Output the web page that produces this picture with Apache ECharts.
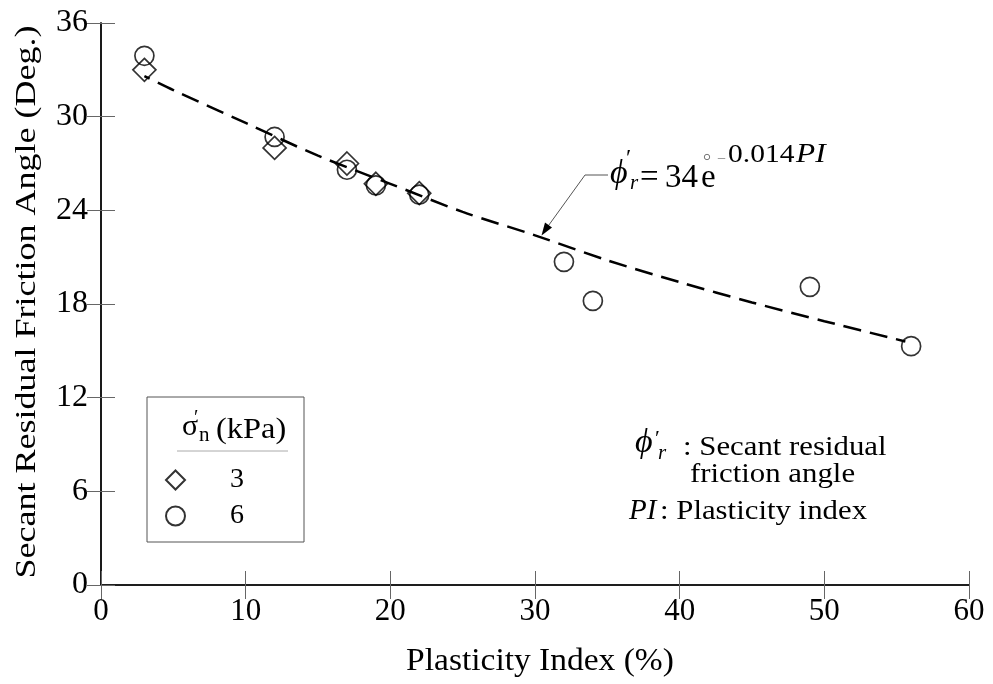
<!DOCTYPE html>
<html><head><meta charset="utf-8">
<script src="https://cdn.jsdelivr.net/npm/echarts@6/dist/echarts.min.js"></script>
<style>html,body{margin:0;padding:0;background:#fff}#c{width:993px;height:684px}</style>
</head><body><div id="c"></div>
<script>
// ---- data ----
const xTicks = [0, 10, 20, 30, 40, 50, 60];
const yTicks = [0, 6, 12, 18, 24, 30, 36];
const pi3 = [3, 12, 17, 19, 22];
const phi3 = [33.0, 28.0, 27.0, 25.7, 25.1];
const pi6 = [3, 12, 17, 19, 22, 32, 34, 49, 56];
const phi6 = [33.9, 28.7, 26.6, 25.6, 25.0, 20.7, 18.2, 19.1, 15.3];
const fitPI = [3, 5, 10, 15, 20, 25, 30, 35, 40, 45, 50, 55.6];
const fitPhi = [32.6, 31.7, 29.6, 27.5, 25.7, 23.9, 22.4, 20.8, 19.4, 18.1, 16.9, 15.6];
const seriesNames = ['3', '6'];
const xTitle = 'Plasticity Index (%)';
const yTitle = 'Secant Residual Friction Angle (Deg.)';

const FONT = "'Liberation Serif','Times New Roman',serif";
const chart = echarts.init(document.getElementById('c'), null, {renderer: 'canvas'});

function T(text, x, baseline, size, opt) {
  opt = opt || {};
  return {
    type: 'text', x: x, y: baseline - 0.34 * size, z: 100,
    scaleX: opt.sx || 1, scaleY: opt.sy || 1, rotation: opt.rot || 0,
    style: {
      text: text, x: 0, y: 0,
      font: (opt.italic ? 'italic ' : '') + size + 'px ' + FONT,
      fill: opt.fill || '#000', align: opt.align || 'left', verticalAlign: 'middle'
    }
  };
}

const axisCommon = {
  type: 'value', min: 0,
  axisLine: {show: true, lineStyle: {color: '#111', width: 1.6}},
  axisTick: {show: true, inside: true, length: 14, lineStyle: {color: '#666', width: 1}},
  splitLine: {show: false}
};

const graphics = [
  // legend box
  {type: 'rect', shape: {x: 147, y: 397, width: 157, height: 145}, style: {fill: 'none', stroke: '#555', lineWidth: 1}, z: 50},
  {type: 'line', shape: {x1: 177, y1: 451, x2: 288, y2: 451}, style: {stroke: '#aaa', lineWidth: 1}, z: 50},
  T('σ', 182, 437, 30),
  T('′', 194, 426, 20),
  T('n', 199, 443, 21),
  T('(kPa)', 216, 440, 30, {sx: 1.08}),
  // equation
  T('ϕ', 610, 186, 34, {italic: true}),
  T('′', 626, 167, 24),
  T('r', 630, 191, 21, {italic: true}),
  T('=', 640, 190, 33),
  T('34', 665, 190, 33),
  T('e', 701, 190, 33),
  {type: 'circle', shape: {cx: 707, cy: 157, r: 2.7}, style: {fill: 'none', stroke: '#777', lineWidth: 1}, z: 100},
  T('−', 717, 165, 16, {fill: '#888'}),
  T('0.014', 728, 164, 25, {sx: 1.18}),
  T('PI', 796, 164, 28, {italic: true, sx: 1.12}),
  // arrow
  {type: 'polyline', shape: {points: [[608, 175], [585, 175], [546, 229]]}, style: {stroke: '#555', lineWidth: 1, fill: 'none'}, z: 100},
  {type: 'polygon', shape: {points: [[541.5, 235.5], [552, 227.5], [545, 222.5]]}, style: {fill: '#000'}, z: 100},
  // right note
  T('ϕ', 635, 455, 34, {italic: true}),
  T('′', 655, 447, 22),
  T('r', 658, 461, 21, {italic: true}),
  T(': Secant residual', 683, 457, 28, {sx: 1.1}),
  T('friction angle', 690, 484, 28, {sx: 1.1}),
  T('PI', 629, 521, 29, {italic: true, sx: 1.0}),
  T(': Plasticity index', 660, 521, 28, {sx: 1.1}),
  // axis titles
  T(xTitle, 540, 672, 31, {align: 'center', sx: 1.08}),
  {type: 'text', x: 27, y: 302, rotation: Math.PI / 2, scaleX: 1.2, z: 100,
   style: {text: yTitle, x: 0, y: 0, font: '30px ' + FONT, fill: '#000', align: 'center', verticalAlign: 'middle'}}
];

const option = {
  backgroundColor: '#fff',
  animation: false,
  grid: {left: 101, top: 23, width: 868, height: 562, containLabel: false},
  xAxis: [
    Object.assign({}, axisCommon, {position: 'bottom', max: xTicks[xTicks.length - 1], interval: xTicks[1] - xTicks[0],
      axisLabel: {show: true, margin: 11, color: '#000', fontFamily: FONT, fontSize: 31}}),
    Object.assign({}, axisCommon, {position: 'top', max: xTicks[xTicks.length - 1], interval: xTicks[1] - xTicks[0],
      axisLabel: {show: false}})
  ],
  yAxis: [
    Object.assign({}, axisCommon, {position: 'left', max: yTicks[yTicks.length - 1], interval: yTicks[1] - yTicks[0],
      axisLabel: {show: true, margin: 13, color: '#000', fontFamily: FONT, fontSize: 32}}),
    Object.assign({}, axisCommon, {position: 'right', max: yTicks[yTicks.length - 1], interval: yTicks[1] - yTicks[0],
      axisLabel: {show: false}})
  ],
  legend: {
    data: seriesNames, orient: 'vertical', left: 165, top: 466, padding: 0,
    itemWidth: 19, itemHeight: 19, itemGap: 8,
    textStyle: {fontFamily: FONT, fontSize: 28, color: '#000', padding: [0, 0, 0, 40]},
    selectedMode: false
  },
  series: [
    {type: 'line', name: 'fit', data: fitPI.map((x, i) => [x, fitPhi[i]]), showSymbol: false, smooth: 0.3,
     lineStyle: {color: '#000', width: 2.5, type: [18, 9], dashOffset: 12}, z: 2, silent: true},
    {type: 'scatter', name: seriesNames[0], data: pi3.map((x, i) => [x, phi3[i]]), symbol: 'diamond', symbolSize: 23,
     itemStyle: {color: 'rgba(0,0,0,0)', borderColor: '#000', borderWidth: 1.7}, z: 3},
    {type: 'scatter', name: seriesNames[1], data: pi6.map((x, i) => [x, phi6[i]]), symbol: 'circle', symbolSize: 19,
     itemStyle: {color: 'rgba(0,0,0,0)', borderColor: '#000', borderWidth: 1.7}, z: 4}
  ],
  graphic: graphics
};
chart.setOption(option);
</script>
</body></html>
